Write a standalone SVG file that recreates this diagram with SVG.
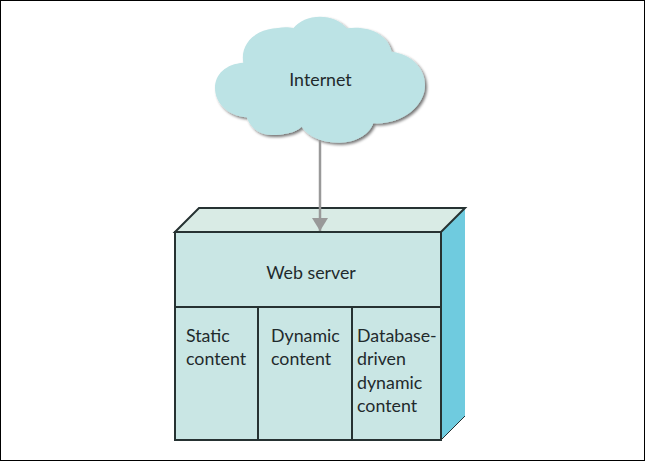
<svg xmlns="http://www.w3.org/2000/svg" width="645" height="461" viewBox="0 0 645 461">
<defs>
<filter id="sh" x="-10%" y="-10%" width="125%" height="125%"><feGaussianBlur in="SourceAlpha" stdDeviation="1.5"/><feOffset dx="2" dy="2"/><feComponentTransfer><feFuncA type="linear" slope="0.55"/></feComponentTransfer><feMerge><feMergeNode/><feMergeNode in="SourceGraphic"/></feMerge></filter>
<marker id="arr" markerUnits="userSpaceOnUse" markerWidth="13" markerHeight="16" refX="13" refY="8" orient="auto"><path d="M0 0L13 8L0 16Z" fill="#999999"/></marker>
</defs>
<style>
text{font-family:Lato,"Liberation Sans",sans-serif;font-size:17.800px;fill:#1f2a2c}
.e{stroke:#263232;stroke-width:2;stroke-linejoin:miter}
</style>
<rect x="0.500" y="0.500" width="644" height="460" fill="#fff" stroke="#000"/>
<g id="internet">
<path d="M243.300 62.700C240 44 255 29 278 28C283 27 289 27 293.300 28.300C299 21 309 16.700 320 16.700C331 16.700 341 21 346.700 28.300C368 25 388 34 391.700 51.700C411 54 425 68 425 85C425 106 402 125 373.300 123.300C369 135 355 142.700 340 142.700C322 142.700 308 137 301.700 126.700C295 133 283 135 272 135C259 135 250 127 246.700 117.300C228 116 215 103 215 88C215 74 226 64 243.300 62.700Z" fill="#bce3e5" filter="url(#sh)"/>
<text x="320.500" y="85.500" text-anchor="middle">Internet</text>
</g>
<g id="web-server">
<path d="M441 232L465 208V416L441 440Z" fill="#6fcbdf"/>
<path d="M175 232L199 208H465L441 232Z" fill="#d9ebe5" class="e"/>
<path d="M441 440L465 416" fill="none" stroke="#263232" stroke-width="1"/>
<rect x="175" y="232" width="266" height="208" fill="#c9e6e4" class="e"/>
<path d="M175 307H441M258 307V440M352 307V440" fill="none" class="e"/>
<text x="311" y="279" text-anchor="middle">Web server</text>
</g>
<g id="static-content"><text x="186" y="342">Static</text><text x="186" y="365">content</text></g>
<g id="dynamic-content"><text x="271" y="342">Dynamic</text><text x="271" y="365">content</text></g>
<g id="database-content"><text x="357" y="342">Database-</text><text x="357" y="365">driven</text><text x="357" y="389">dynamic</text><text x="357" y="412">content</text></g>
<g id="connectors"><path d="M320 140V231" fill="none" stroke="#999999" stroke-width="2.500" marker-end="url(#arr)"/></g>
</svg>
